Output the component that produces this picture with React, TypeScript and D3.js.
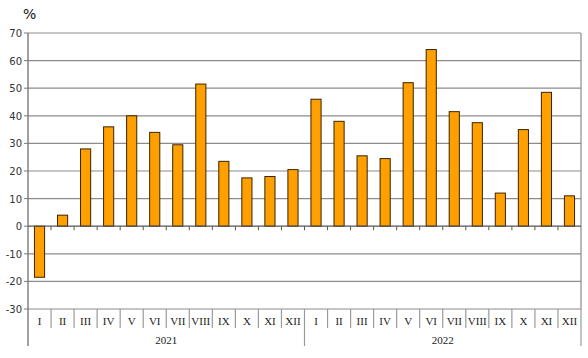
import { useEffect, useRef } from 'react';
import * as d3 from 'd3';

const months = ['I', 'II', 'III', 'IV', 'V', 'VI', 'VII', 'VIII', 'IX', 'X', 'XI', 'XII'];
const years = ['2021', '2022'];
const values2021 = [-18.5, 4, 28, 36, 40, 34, 29.5, 51.5, 23.5, 17.5, 18, 20.5];
const values2022 = [46, 38, 25.5, 24.5, 52, 64, 41.5, 37.5, 12, 35, 48.5, 11];
const yTicks = [-30, -20, -10, 0, 10, 20, 30, 40, 50, 60, 70];

export default function App() {
  const svgRef = useRef<SVGSVGElement>(null);

  useEffect(() => {
    if (!svgRef.current) return;
    d3.select(svgRef.current).selectAll('*').remove();

    const data = [
      ...values2021.map((v, i) => ({ key: `2021-${i}`, month: months[i], value: v })),
      ...values2022.map((v, i) => ({ key: `2022-${i}`, month: months[i], value: v })),
    ];

    const left = 28, right = 581, top = 33, bottom = 309;
    const svg = d3.select(svgRef.current);

    const x = d3.scaleBand().domain(data.map(d => d.key)).range([left, right]).paddingInner(0.56).paddingOuter(0.28);
    const band = d3.scaleBand().domain(data.map(d => d.key)).range([left, right]);
    const y = d3.scaleLinear().domain([-30, 70]).range([bottom, top]);

    // gridlines
    svg.append('g')
      .selectAll('line')
      .data(yTicks.filter(t => t !== 0))
      .enter()
      .append('line')
      .attr('x1', left).attr('x2', right)
      .attr('y1', d => y(d)).attr('y2', d => y(d))
      .attr('stroke', '#8c8c8c').attr('stroke-width', 1.2);

    // right border
    svg.append('line')
      .attr('x1', right).attr('x2', right).attr('y1', top).attr('y2', bottom)
      .attr('stroke', '#8c8c8c').attr('stroke-width', 1.2);

    // y axis
    svg.append('line')
      .attr('x1', left).attr('x2', left).attr('y1', top).attr('y2', 346)
      .attr('stroke', '#7a7a7a').attr('stroke-width', 1.4);

    svg.append('g')
      .selectAll('text')
      .data(yTicks)
      .enter()
      .append('text')
      .attr('x', left - 6)
      .attr('y', d => y(d) + 4)
      .attr('text-anchor', 'end')
      .attr('font-family', 'Verdana, "DejaVu Sans", sans-serif')
      .attr('font-size', 10)
      .attr('fill', '#333')
      .text(d => d);

    svg.append('g')
      .selectAll('line')
      .data(yTicks)
      .enter()
      .append('line')
      .attr('x1', left - 4).attr('x2', left)
      .attr('y1', d => y(d)).attr('y2', d => y(d))
      .attr('stroke', '#7a7a7a');

    // bars
    svg.append('g')
      .selectAll('rect')
      .data(data)
      .enter()
      .append('rect')
      .attr('x', d => x(d.key) || 0)
      .attr('y', d => y(Math.max(0, d.value)))
      .attr('width', x.bandwidth())
      .attr('height', d => Math.abs(y(d.value) - y(0)))
      .attr('fill', '#ff9f00')
      .attr('stroke', '#3a2400')
      .attr('stroke-width', 1);

    // zero axis
    svg.append('line')
      .attr('x1', left).attr('x2', right).attr('y1', y(0)).attr('y2', y(0))
      .attr('stroke', '#555').attr('stroke-width', 1.2);
    svg.append('g')
      .selectAll('line')
      .data(data.slice(1))
      .enter()
      .append('line')
      .attr('x1', d => band(d.key) || 0).attr('x2', d => band(d.key) || 0)
      .attr('y1', y(0)).attr('y2', y(0) + 4)
      .attr('stroke', '#555');

    // category separators
    svg.append('g')
      .selectAll('line')
      .data(data.slice(1))
      .enter()
      .append('line')
      .attr('x1', d => band(d.key) || 0).attr('x2', d => band(d.key) || 0)
      .attr('y1', bottom)
      .attr('y2', (d, i) => ((i + 1) % 12 === 0 ? 346 : 328))
      .attr('stroke', '#9a9a9a').attr('stroke-width', 1.2);
    svg.append('line')
      .attr('x1', right).attr('x2', right).attr('y1', bottom).attr('y2', 346)
      .attr('stroke', '#9a9a9a').attr('stroke-width', 1.2);

    // month labels
    svg.append('g')
      .selectAll('text')
      .data(data)
      .enter()
      .append('text')
      .attr('x', d => (band(d.key) || 0) + band.bandwidth() / 2)
      .attr('y', 325)
      .attr('text-anchor', 'middle')
      .attr('font-family', '"Times New Roman", "Liberation Serif", serif')
      .attr('font-size', 11)
      .attr('fill', '#222')
      .text(d => d.month);

    // year labels
    svg.append('g')
      .selectAll('text')
      .data(years)
      .enter()
      .append('text')
      .attr('x', (d, i) => left + ((right - left) / 2) * (i + 0.5))
      .attr('y', 344)
      .attr('text-anchor', 'middle')
      .attr('font-family', '"Times New Roman", "Liberation Serif", serif')
      .attr('font-size', 11)
      .attr('fill', '#222')
      .text(d => d);

    svg.append('text')
      .attr('x', 23).attr('y', 19)
      .attr('font-family', 'Verdana, "DejaVu Sans", sans-serif')
      .attr('font-size', 14)
      .attr('fill', '#111')
      .text('%');
  }, []);

  return (
    <svg ref={svgRef} width={588} height={358}
      style={{ position: 'absolute', left: 0, top: 0, background: '#fff' }} />
  );
}
